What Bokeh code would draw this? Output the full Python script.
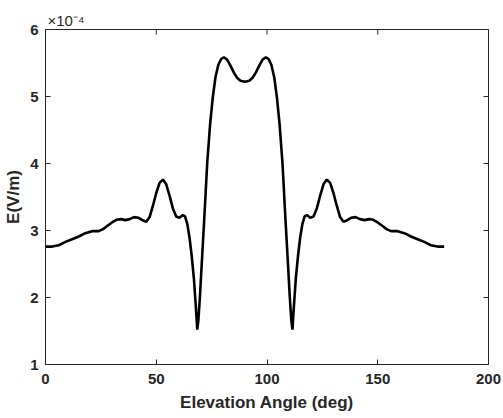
from bokeh.plotting import figure
from bokeh.models import Range1d, FixedTicker, Title
from bokeh.embed import file_html
from bokeh.resources import INLINE

# Elevation angle (deg)
angle = [0, 3, 6, 9, 12, 15, 18, 21, 24, 26, 28, 30, 32, 34, 36, 38, 40, 42, 44, 45.5,
         47, 48.5, 50, 51.5, 53, 54.5, 56, 57.5, 59, 60.5, 62, 63, 64, 65, 66, 67, 68, 68.5,
         69, 69.7, 70.7, 71.8, 73, 74.3, 75.5, 76.7, 78, 79.3, 80.5, 82, 83.5, 85, 86.5, 88,
         90,
         92, 93.5, 95, 96.5, 98, 99.5, 100.7, 102, 103.3, 104.5, 105.7, 107, 108.2, 109.3,
         110.3, 111, 111.5, 112, 113, 114, 115, 116, 117, 118, 119.5, 121, 122.5, 124, 125.5,
         127, 128.5, 130, 131.5, 133, 134.5, 136, 138, 140, 142, 144, 146, 148, 150, 152,
         154, 156, 159, 162, 165, 168, 171, 174, 177, 180]

# Electric field E (x 1e-4 V/m)
e_field = [2.76, 2.76, 2.78, 2.83, 2.87, 2.91, 2.96, 2.99, 2.99, 3.02, 3.07, 3.12, 3.16,
           3.17, 3.155, 3.17, 3.20, 3.19, 3.15, 3.13, 3.20, 3.37, 3.56, 3.71, 3.76, 3.69,
           3.52, 3.33, 3.21, 3.19, 3.23, 3.21, 3.10, 2.90, 2.62, 2.28, 1.80, 1.52, 1.65,
           2.00, 2.60, 3.25, 4.00, 4.58, 4.98, 5.28, 5.47, 5.56, 5.585, 5.55, 5.46, 5.36,
           5.28, 5.235,
           5.22,
           5.235, 5.28, 5.36, 5.46, 5.55, 5.585, 5.56, 5.47, 5.28, 4.98, 4.58, 4.00, 3.25,
           2.60, 2.00, 1.65, 1.52, 1.80, 2.28, 2.62, 2.90, 3.10, 3.21, 3.23, 3.19, 3.21,
           3.33, 3.52, 3.69, 3.76, 3.71, 3.56, 3.37, 3.20, 3.13, 3.15, 3.19, 3.20, 3.17,
           3.155, 3.17, 3.16, 3.12, 3.07, 3.02, 2.99, 2.99, 2.96, 2.91, 2.87, 2.83, 2.78,
           2.76, 2.76]

x_ticks = [0, 50, 100, 150, 200]
y_ticks = [1, 2, 3, 4, 5, 6]
x_lo, x_hi = 0, 200
y_lo, y_hi = 1, 6

FONT = "Liberation Sans"
AX = "#262626"
FW, FH = 443, 335
TICK = 5

p = figure(width=503, height=418, frame_width=FW, frame_height=FH,
           output_backend="svg", toolbar_location=None,
           x_range=Range1d(x_lo, x_hi), y_range=Range1d(y_lo, y_hi),
           min_border_left=45, min_border_right=15, min_border_top=29, min_border_bottom=54)
p.background_fill_color = "white"
p.border_fill_color = "white"
p.outline_line_color = AX
p.outline_line_width = 1
p.grid.visible = False

p.line(angle, e_field, line_color="black", line_width=2.6)

# inward ticks on the top and right edges (box on)
dy = TICK * (y_hi - y_lo) / FH
dx = TICK * (x_hi - x_lo) / FW
p.segment(x0=x_ticks, y0=[y_hi] * len(x_ticks), x1=x_ticks, y1=[y_hi - dy] * len(x_ticks),
          line_color=AX, line_width=1)
p.segment(x0=[x_hi] * len(y_ticks), y0=y_ticks, x1=[x_hi - dx] * len(y_ticks), y1=y_ticks,
          line_color=AX, line_width=1)

for ax in (p.xaxis[0], p.yaxis[0]):
    ax.axis_line_color = AX
    ax.axis_line_width = 1
    ax.major_tick_line_color = AX
    ax.major_tick_in = TICK
    ax.major_tick_out = 0
    ax.minor_tick_line_color = None
    ax.major_label_text_font = FONT
    ax.major_label_text_font_style = "bold"
    ax.major_label_text_font_size = "15px"
    ax.major_label_text_color = AX
    ax.axis_label_text_font = FONT
    ax.axis_label_text_font_style = "bold"
    ax.axis_label_text_font_size = "17px"
    ax.axis_label_text_color = AX

p.xaxis.ticker = FixedTicker(ticks=x_ticks)
p.yaxis.ticker = FixedTicker(ticks=y_ticks)
p.xaxis.axis_label = "Elevation Angle (deg)"
p.yaxis.axis_label = "E(V/m)"
p.xaxis.major_label_standoff = 9
p.xaxis.axis_label_standoff = 6
p.yaxis.major_label_standoff = 7
p.yaxis.axis_label_standoff = 4

t = Title(text="\u00d710\u207b\u2074", align="left", offset=2, standoff=2,
          text_font=FONT, text_font_size="15px", text_font_style="normal",
          text_color=AX)
p.add_layout(t, "above")

open("out.html", "w").write(file_html(p, INLINE))
